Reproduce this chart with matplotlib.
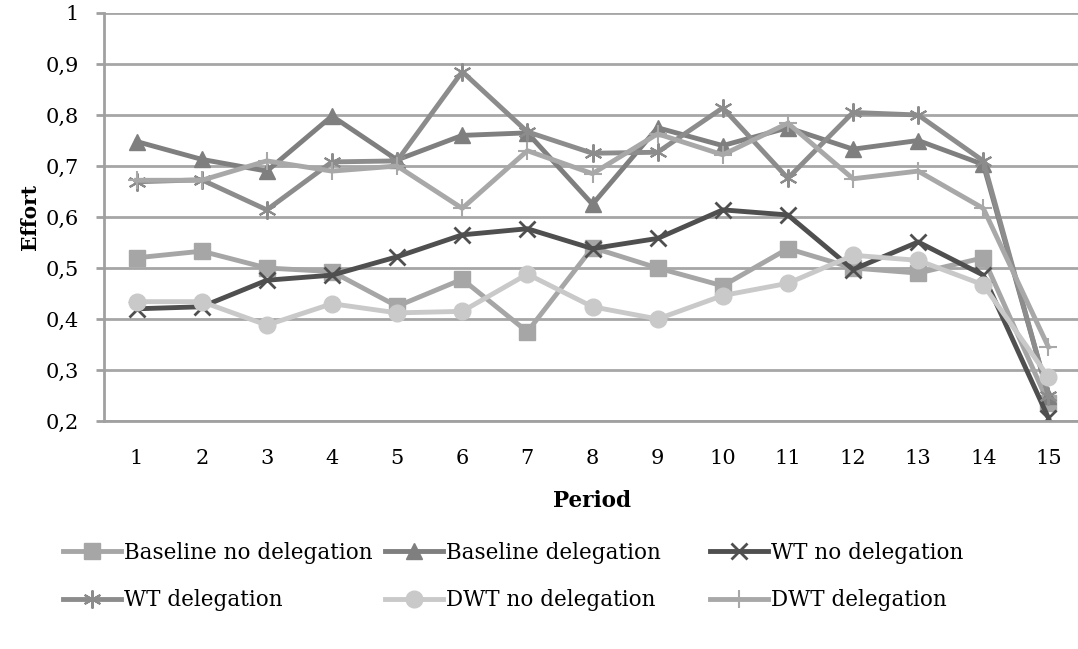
import matplotlib
matplotlib.use("Agg")
import matplotlib.pyplot as plt
from matplotlib.ticker import FixedLocator

# data
periods = list(range(1, 16))
baseline_no_del = [0.52, 0.533, 0.50, 0.493, 0.425, 0.478, 0.375, 0.54, 0.50, 0.465, 0.538, 0.50, 0.49, 0.52, 0.235]
baseline_del = [0.748, 0.713, 0.69, 0.798, 0.712, 0.76, 0.765, 0.625, 0.775, 0.74, 0.775, 0.733, 0.75, 0.703, 0.25]
wt_no_del = [0.42, 0.424, 0.476, 0.486, 0.522, 0.565, 0.577, 0.538, 0.558, 0.614, 0.604, 0.497, 0.551, 0.486, 0.206]
wt_del = [0.669, 0.673, 0.614, 0.708, 0.71, 0.885, 0.767, 0.725, 0.727, 0.814, 0.676, 0.805, 0.80, 0.71, 0.25]
dwt_no_del = [0.434, 0.434, 0.388, 0.43, 0.412, 0.415, 0.488, 0.424, 0.40, 0.446, 0.47, 0.525, 0.515, 0.467, 0.286]
dwt_del = [0.672, 0.672, 0.71, 0.69, 0.70, 0.617, 0.73, 0.685, 0.763, 0.722, 0.784, 0.675, 0.69, 0.617, 0.345]

y_ticks = [0.2, 0.3, 0.4, 0.5, 0.6, 0.7, 0.8, 0.9, 1.0]
y_labels = ["0,2", "0,3", "0,4", "0,5", "0,6", "0,7", "0,8", "0,9", "1"]

series = [
    ("Baseline no delegation", baseline_no_del, "#a6a6a6", dict(marker="s", ms=11)),
    ("Baseline delegation", baseline_del, "#7f7f7f", dict(marker="^", ms=12)),
    ("WT no delegation", wt_no_del, "#4f4f4f", dict(marker="x", ms=11, mew=2)),
    ("WT delegation", wt_del, "#8c8c8c", dict(marker=(6, 2, 0), ms=13, mew=1.5)),
    ("DWT no delegation", dwt_no_del, "#c9c9c9", dict(marker="o", ms=12)),
    ("DWT delegation", dwt_del, "#a8a8a8", dict(marker="+", ms=13, mew=1.5)),
]

plt.rcParams["font.family"] = "DejaVu Serif"

fig = plt.figure(figsize=(10.78, 6.49), dpi=100)
ax = fig.add_axes([104 / 1078, 1 - 421 / 649, 977 / 1078, 408 / 649])

handles = []
for name, vals, col, mk in series:
    ln, = ax.plot(periods, vals, color=col, lw=3.5, label=name,
                  mfc=col, mec=col, **mk)
    handles.append(ln)

ax.set_xlim(0.5, 15.5)
ax.set_ylim(0.2, 1.0)
ax.yaxis.set_major_locator(FixedLocator(y_ticks))
ax.set_yticklabels(y_labels)
ax.set_xticks(periods)
ax.grid(axis="y", color="#a6a6a6", lw=2)
ax.set_axisbelow(True)
for s in ["top", "right"]:
    ax.spines[s].set_visible(False)
for s in ["left", "bottom"]:
    ax.spines[s].set_color("#a0a0a0")
    ax.spines[s].set_linewidth(2)
ax.tick_params(axis="y", length=6, width=2, color="#a0a0a0", labelsize=15, pad=12)
ax.tick_params(axis="x", length=0, labelsize=15, pad=20)

ax.set_xlabel("Period", fontsize=15.5, fontweight="bold", labelpad=16)
ax.set_ylabel("Effort", fontsize=14.5, fontweight="bold", labelpad=4)

# legend laid out row-wise, one legend per column
col_x = [54, 376, 701]
for c in range(3):
    idx = [c, c + 3]
    fig.legend([handles[i] for i in idx], [series[i][0] for i in idx],
               loc="upper left", bbox_to_anchor=(col_x[c] / 1078, 1 - 533 / 649),
               ncol=1, frameon=False, fontsize=15.5, handlelength=2.7,
               handletextpad=0.15, labelspacing=1.2, borderaxespad=0)

fig.savefig("out.png", dpi=100)
